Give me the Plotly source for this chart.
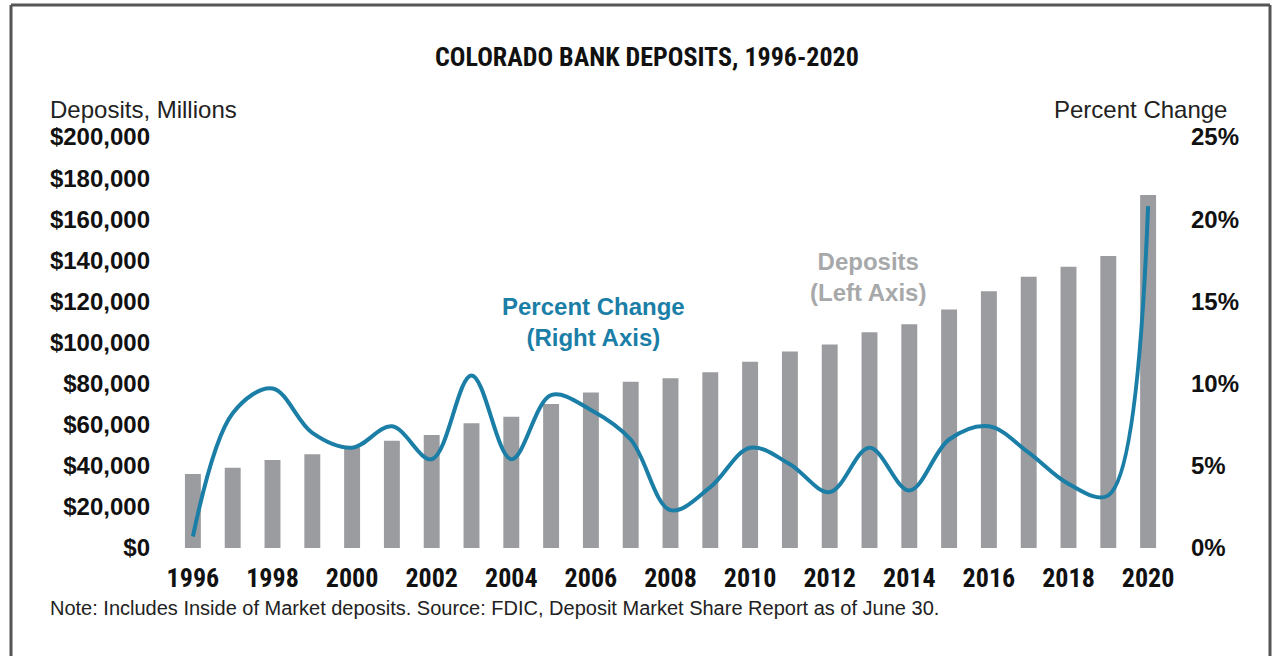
import plotly.graph_objects as go

years = list(range(1996, 2021))
deposits = [36000, 39100, 42800, 45600, 49000, 52200, 55000, 60700, 63900, 70100,
            75700, 80900, 82600, 85500, 90600, 95600, 99000, 105000, 108900, 116100,
            124900, 132000, 136900, 142100, 171800]
pct_change = [0.7, 8.2, 9.7, 7.0, 6.1, 7.4, 5.4, 10.5, 5.4, 9.3,
              8.4, 6.6, 2.3, 3.7, 6.1, 5.1, 3.4, 6.1, 3.5, 6.6,
              7.4, 5.8, 3.9, 3.2, 20.8]
x_ticks = list(range(1996, 2021, 2))
left_ticks = list(range(0, 200001, 20000))
left_labels = ["${:,}".format(v) for v in left_ticks]
right_ticks = [0, 5, 10, 15, 20, 25]
right_labels = ["{}%".format(v) for v in right_ticks]

BAR = "#9b9c9f"
LINE = "#1a7ea7"
NARROW = "Liberation Sans Narrow, Arial Narrow, Roboto Condensed, sans-serif"
SANS = "Liberation Sans, Arial, sans-serif"

W, H = 1272, 656
L, R, T, B = 173, 104, 137, 108

def px(x):
    return (x - L) / (W - L - R)

def py(y):
    return (H - B - y) / (H - T - B)

fig = go.Figure()
fig.add_trace(go.Bar(x=years, y=deposits, width=0.4, marker_color=BAR,
                     marker_line_width=0, yaxis="y", name="Deposits"))
fig.add_trace(go.Scatter(x=years, y=pct_change, mode="lines", yaxis="y2",
                         line=dict(color=LINE, width=4, shape="spline", smoothing=1.0),
                         name="Percent Change"))

tick_font = dict(family=SANS, size=24, color="#111111", weight="bold")
fig.update_layout(
    width=W, height=H,
    margin=dict(l=L, r=R, t=T, b=B),
    paper_bgcolor="white", plot_bgcolor="white",
    showlegend=False,
    xaxis=dict(range=[1995.5, 2020.5], tickvals=x_ticks, ticktext=[str(v) for v in x_ticks],
               showgrid=False, zeroline=False, showline=False, ticks="", ticklabelstandoff=12,
               tickfont=dict(family=NARROW, size=26, color="#111111", weight="bold")),
    yaxis=dict(range=[0, 200000], tickvals=left_ticks, ticktext=left_labels,
               showgrid=False, zeroline=False, showline=False, ticks="",
               ticklabelstandoff=22, tickfont=tick_font),
    yaxis2=dict(range=[0, 25], tickvals=right_ticks, ticktext=right_labels, overlaying="y",
                side="right", showgrid=False, zeroline=False, showline=False, ticks="",
                ticklabelstandoff=22, tickfont=tick_font),
    font=dict(family=SANS, color="#111111"),
)

anns = [
    dict(text="<b>COLORADO BANK DEPOSITS, 1996-2020</b>", x=px(647), y=py(57),
         xanchor="center", yanchor="middle", font=dict(family=NARROW, size=26, color="#111111")),
    dict(text="Deposits, Millions", x=px(48), y=py(110), xanchor="left", yanchor="middle",
         font=dict(family=SANS, size=24, color="#222222")),
    dict(text="Percent Change", x=px(1229), y=py(109), xanchor="right", yanchor="middle",
         font=dict(family=SANS, size=24, color="#222222")),
    dict(text="<b>Percent Change<br>(Right Axis)</b>", x=px(593), y=py(322), xanchor="center",
         yanchor="middle", align="center", font=dict(family=SANS, size=24, color=LINE)),
    dict(text="<b>Deposits<br>(Left Axis)</b>", x=px(868), y=py(277), xanchor="center",
         yanchor="middle", align="center", font=dict(family=SANS, size=24, color="#a7a8aa")),
    dict(text="Note: Includes Inside of Market deposits. Source: FDIC, Deposit Market Share Report as of June 30.",
         x=px(48), y=py(608), xanchor="left", yanchor="middle",
         font=dict(family=SANS, size=20, color="#222222")),
]
for a in anns:
    a.update(xref="paper", yref="paper", showarrow=False)
fig.update_layout(annotations=anns)

border = dict(color="#555555", width=3)
for (x0, y0, x1, y1) in [(11, 5, 11, 660), (11, 5, 1270, 5), (1270, 5, 1270, 660)]:
    fig.add_shape(type="line", xref="paper", yref="paper",
                  x0=px(x0), y0=py(y0), x1=px(x1), y1=py(y1), line=border)

fig.write_html("out.html", config={"displayModeBar": False},
               post_script="document.body.style.margin='0px';document.body.style.overflow='hidden';")
